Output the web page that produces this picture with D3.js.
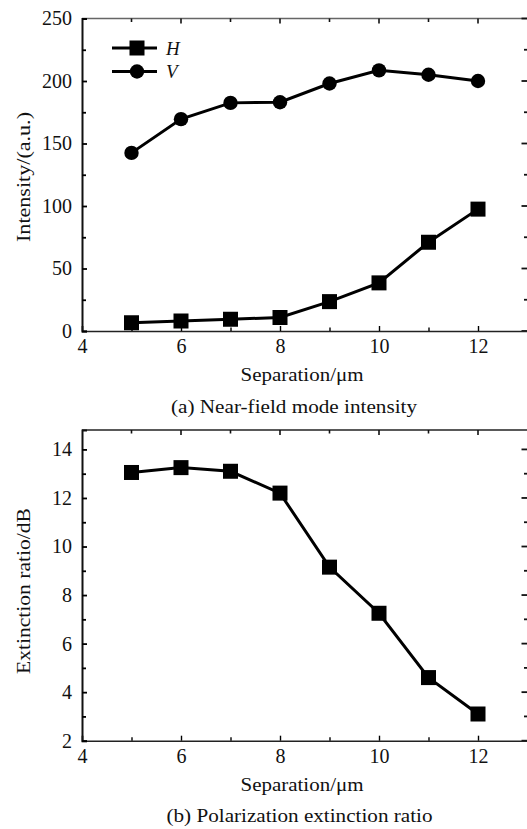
<!DOCTYPE html>
<html>
<head>
<meta charset="utf-8">
<style>
  body { margin: 0; background: #fff; }
  svg text { font-family: "Liberation Serif", "Times New Roman", serif !important; fill: #111; }
</style>
</head>
<body>
<svg width="527" height="829"></svg>
<script src="https://d3js.org/d3.v7.min.js"></script>
<script>
// data
var separation = [5, 6, 7, 8, 9, 10, 11, 12];
var intensityH = [6.6, 8, 9.4, 10.8, 23.5, 38.5, 71, 97.5];
var intensityV = [142.5, 169.5, 182.5, 183, 198, 208.5, 205, 200];
var extinction = [13.05, 13.25, 13.1, 12.2, 9.15, 7.25, 4.6, 3.1];

var xTicks = [4, 6, 8, 10, 12];
var xMinor = [5, 7, 9, 11];
var yTicksA = [0, 50, 100, 150, 200, 250];
var yMinorA = [25, 75, 125, 175, 225];
var yTicksB = [2, 4, 6, 8, 10, 12, 14];
var yMinorB = [3, 5, 7, 9, 11, 13];

var svg = d3.select("svg");

// right edge of the plot box falls just outside the picture
var x = d3.scaleLinear().domain([4, 13]).range([82, 527.5]);

// the original type is a bit wider than Liberation Serif, so stretch it to the measured widths
function label(g, txt, len, attrs) {
  var t = g.append("text").attr("text-anchor", "middle").attr("font-size", 19)
    .attr("textLength", len).attr("lengthAdjust", "spacingAndGlyphs").text(txt);
  for (var k in attrs) t.attr(k, attrs[k]);
  return t;
}

function panel(y, yTicks, yMinor, opt) {
  var g = svg.append("g");
  var x0 = x.range()[0], x1 = x.range()[1];
  var yb = y.range()[0], yt = y.range()[1];

  // top frame
  g.append("line").attr("x1", x0).attr("x2", 527).attr("y1", yt).attr("y2", yt)
    .attr("stroke", opt.topColor).attr("stroke-width", 1.4);

  // top ticks (inward)
  g.selectAll(".tt").data(xTicks.concat(xMinor).filter(function(d) { return d > 4; }))
    .enter().append("line")
      .attr("x1", function(d) { return x(d); }).attr("x2", function(d) { return x(d); })
      .attr("y1", yt).attr("y2", function(d) { return yt + (d % 2 == 0 ? 5 : 3.5); })
      .attr("stroke", "#111").attr("stroke-width", 1.6);
  // right ticks (inward)
  g.selectAll(".rt").data(yTicks.concat(yMinor))
    .enter().append("line")
      .attr("x1", x1).attr("x2", function(d) { return x1 - (yTicks.indexOf(d) >= 0 ? 6 : 3.5); })
      .attr("y1", function(d) { return y(d); }).attr("y2", function(d) { return y(d); })
      .attr("stroke", "#111").attr("stroke-width", 1.8);

  // bottom axis
  var gx = g.append("g").attr("transform", "translate(0," + yb + ")")
    .call(d3.axisBottom(x).tickValues(xTicks).tickSize(-5).tickPadding(8).tickFormat(d3.format("d")));
  gx.attr("font-family", null);
  gx.selectAll("text").attr("font-size", 20);
  gx.select(".domain").attr("stroke", "#222").attr("stroke-width", 1.5);
  gx.selectAll(".tick line").attr("stroke-width", 1.4);
  g.append("g").attr("transform", "translate(0," + yb + ")")
    .call(d3.axisBottom(x).tickValues(xMinor).tickSize(-3.5).tickFormat(""))
    .call(function(s) { s.select(".domain").remove(); s.selectAll("line").attr("stroke-width", 1.4); });

  // left axis
  var gy = g.append("g").attr("transform", "translate(" + x0 + ",0)")
    .call(d3.axisLeft(y).tickValues(yTicks).tickSize(-5).tickPadding(10).tickFormat(d3.format("d")));
  gy.attr("font-family", null);
  gy.selectAll("text").attr("font-size", 20);
  gy.select(".domain").attr("stroke", "#111").attr("stroke-width", 2);
  gy.selectAll(".tick line").attr("stroke-width", 1.8);
  g.append("g").attr("transform", "translate(" + x0 + ",0)")
    .call(d3.axisLeft(y).tickValues(yMinor).tickSize(-4).tickFormat(""))
    .call(function(s) { s.select(".domain").remove(); s.selectAll("line").attr("stroke-width", 1.8); });

  label(g, opt.yLabel, opt.yLen, { transform: "translate(30," + opt.yMid + ") rotate(-90)" });
  label(g, "Separation/μm", 123, { x: 302, y: opt.xlabY });
  label(g, opt.caption, opt.capLen, { x: opt.capX, y: opt.capY });
  return g;
}

function series(g, y, vals, shape) {
  var line = d3.line().x(function(d, i) { return x(separation[i]); }).y(function(d) { return y(d); });
  g.append("path").datum(vals)
    .attr("fill", "none").attr("stroke", "#000").attr("stroke-width", 3).attr("d", line);
  if (shape == "circle") {
    g.selectAll(".c").data(vals).enter().append("circle")
      .attr("cx", function(d, i) { return x(separation[i]); })
      .attr("cy", function(d) { return y(d); })
      .attr("r", 7.2).attr("fill", "#000");
  } else {
    g.selectAll(".s").data(vals).enter().append("rect")
      .attr("x", function(d, i) { return x(separation[i]) - 7.5; })
      .attr("y", function(d) { return y(d) - 7.5; })
      .attr("width", 15).attr("height", 15).attr("fill", "#000");
  }
}

// (a) near-field mode intensity
var yA = d3.scaleLinear().domain([0, 250]).range([331, 18.5]);
var gA = panel(yA, yTicksA, yMinorA, {
  yLabel: "Intensity/(a.u.)", yLen: 130, yMid: 177,
  caption: "(a) Near-field mode intensity", capLen: 246, capX: 294, capY: 413,
  xlabY: 381, topColor: "#666"
});
series(gA, yA, intensityH, "square");
series(gA, yA, intensityV, "circle");

// legend
var leg = gA.append("g");
[["H", "square", 48], ["V", "circle", 71.5]].forEach(function(d) {
  leg.append("line").attr("x1", 112).attr("x2", 157).attr("y1", d[2]).attr("y2", d[2])
    .attr("stroke", "#000").attr("stroke-width", 3);
  if (d[1] == "circle") leg.append("circle").attr("cx", 137).attr("cy", d[2]).attr("r", 7.2).attr("fill", "#000");
  else leg.append("rect").attr("x", 129.5).attr("y", d[2] - 7.5).attr("width", 15).attr("height", 15).attr("fill", "#000");
  leg.append("text").attr("x", 166).attr("y", d[2] + 6.5).attr("font-size", 19).attr("font-style", "italic").text(d[0]);
});

// (b) polarization extinction ratio
var yB = d3.scaleLinear().domain([2, 14.8]).range([740.7, 430]);
var gB = panel(yB, yTicksB, yMinorB, {
  yLabel: "Extinction ratio/dB", yLen: 166, yMid: 591,
  caption: "(b) Polarization extinction ratio", capLen: 266, capX: 299.5, capY: 822,
  xlabY: 791, topColor: "#222"
});
series(gB, yB, extinction, "square");
</script>
</body>
</html>
